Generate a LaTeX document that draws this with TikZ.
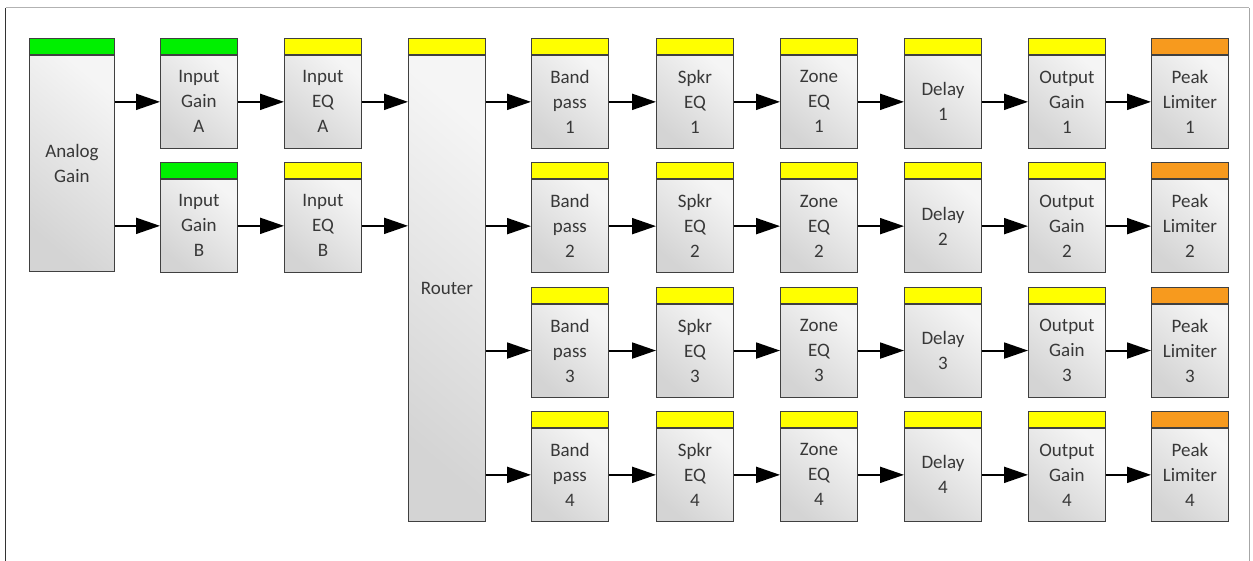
\documentclass[tikz,border=0pt]{standalone}
\usepackage{fontspec}
\setmainfont{Carlito}
\usetikzlibrary{arrows.meta}
\definecolor{hgreen}{HTML}{00F000}
\definecolor{hyellow}{HTML}{FFFF00}
\definecolor{horange}{HTML}{F79A1E}
\definecolor{edge}{HTML}{404040}
\definecolor{txt}{HTML}{383838}
\tikzset{
  hdr/.style={draw=edge, line width=0.9pt, inner sep=0pt, minimum height=16pt, anchor=north west},
  body/.style={draw=edge, line width=0.9pt, inner sep=0pt, anchor=north west, align=center,
    text=txt, font=\fontsize{19}{25}\selectfont,
    top color=gray!8, bottom color=gray!34, shading angle=-40},
  flow/.style={line width=2pt, -{Triangle[length=24pt,width=16pt]}},
  frame/.style={line width=1pt}
}
\newcommand\blk[7]{% name, xleft, ytop, body height, width, header colour, text
  \node[hdr, fill=#6, minimum width=#5pt] (#1h) at (#2,#3) {};
  \node[body, minimum width=#5pt, minimum height=#4pt] (#1) at (#1h.south west) {#7};
}
\begin{document}
\begin{tikzpicture}[x=1pt,y=-1pt]
\useasboundingbox (0,0) rectangle (1253,561);
% frame
\coordinate (ftl) at (5.5,8);
\coordinate (ftr) at (1249,8);
\coordinate (fbl) at (5.5,561);
\coordinate (fbr) at (1249,561);
\draw[frame, draw=gray!60] (ftl) -- (ftr);
\draw[frame, draw=gray!70] (ftr) -- (fbr);
\draw[line width=1.8pt, draw=black!80] (ftl) -- (fbl);
% input section
\blk{an}{29}{38}{216}{85}{hgreen}{Analog\\Gain}
\blk{gA}{160}{38}{93}{77}{hgreen}{Input\\Gain\\A}
\blk{gB}{160}{162}{93}{77}{hgreen}{Input\\Gain\\B}
\blk{eA}{284}{38}{93}{77}{hyellow}{Input\\EQ\\A}
\blk{eB}{284}{162}{93}{77}{hyellow}{Input\\EQ\\B}
\blk{rt}{408}{38}{466}{77}{hyellow}{Router}
\draw[flow] (gA.west -| an.east) -- (gA.west);
\draw[flow] (gB.west -| an.east) -- (gB.west);
\draw[flow] (gA.east) -- (eA.west);
\draw[flow] (gB.east) -- (eB.west);
\draw[flow] (eA.east) -- (eA.east -| rt.west);
\draw[flow] (eB.east) -- (eB.east -| rt.west);
% output rows
\foreach \i/\y in {1/38, 2/162.3, 3/286.7, 4/411} {
  \blk{bp\i}{531}{\y}{93}{77}{hyellow}{Band\\pass\\\i}
  \blk{se\i}{656}{\y}{93}{77}{hyellow}{Spkr\\EQ\\\i}
  \blk{ze\i}{780}{\y}{93}{77}{hyellow}{Zone\\EQ\\\i}
  \blk{dl\i}{904}{\y}{93}{77}{hyellow}{Delay\\\i}
  \blk{og\i}{1028}{\y}{93}{77}{hyellow}{Output\\Gain\\\i}
  \blk{pl\i}{1151}{\y}{93}{77}{horange}{Peak\\Limiter\\\i}
  \draw[flow] (bp\i.west -| rt.east) -- (bp\i.west);
  \draw[flow] (bp\i.east) -- (se\i.west);
  \draw[flow] (se\i.east) -- (ze\i.west);
  \draw[flow] (ze\i.east) -- (dl\i.west);
  \draw[flow] (dl\i.east) -- (og\i.west);
  \draw[flow] (og\i.east) -- (pl\i.west);
}
\end{tikzpicture}
\end{document}
